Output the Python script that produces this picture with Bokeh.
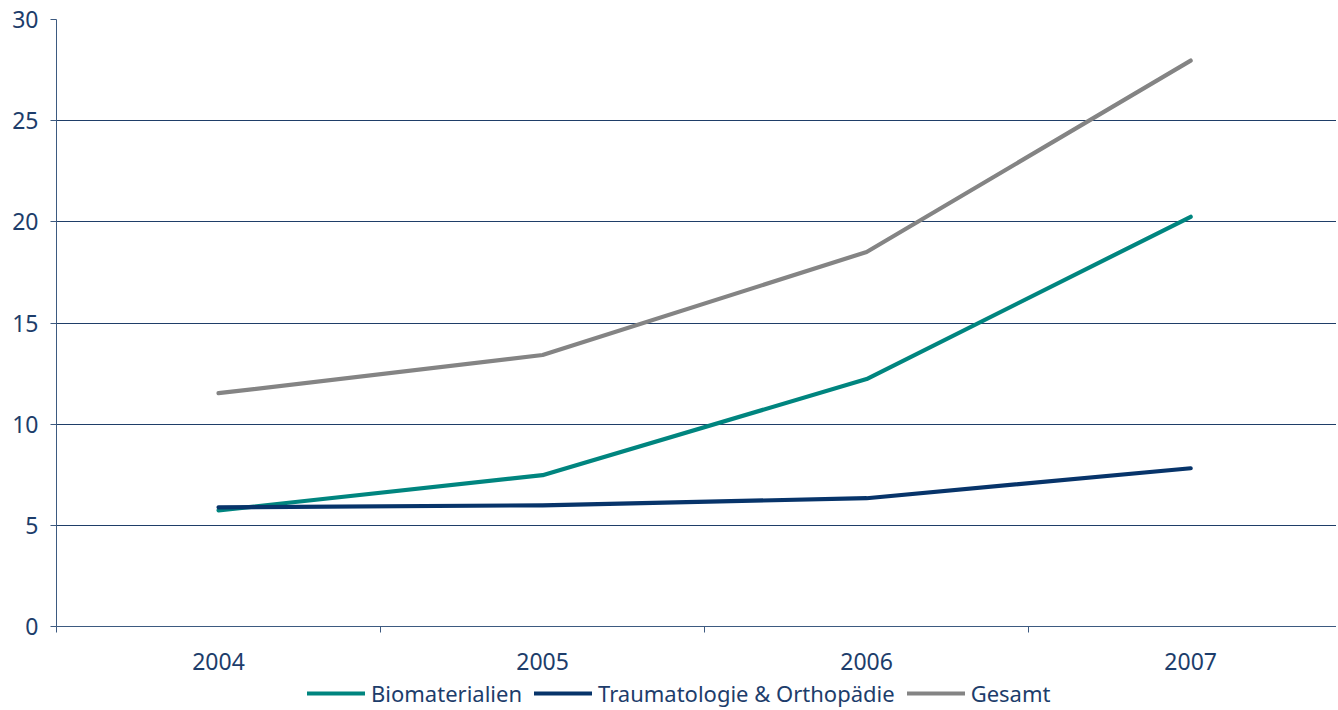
from bokeh.plotting import figure
from bokeh.layouts import column
from bokeh.models import Range1d, FixedTicker, Legend, LegendItem
from bokeh.embed import file_html
from bokeh.resources import INLINE

years = ["2004", "2005", "2006", "2007"]
biomaterialien = [5.74, 7.48, 12.23, 20.25]
traumatologie = [5.89, 5.99, 6.34, 7.82]
gesamt = [11.53, 13.42, 18.51, 27.97]
y_ticks = [0, 5, 10, 15, 20, 25, 30]

series_names = ["Biomaterialien", "Traumatologie & Orthopädie", "Gesamt"]
colors = ["#00857f", "#07346a", "#848484"]
series = [biomaterialien, traumatologie, gesamt]

TEXT = "#1d3d6b"
AXIS = "#3d5a80"
FONT = "Noto Sans"

xs = list(range(len(years)))

p = figure(width=1336, height=678, output_backend="svg", toolbar_location=None,
           x_range=Range1d(-0.5, 3.45), y_range=Range1d(0, 30),
           min_border_left=56, min_border_top=19, min_border_right=0, min_border_bottom=52)
p.outline_line_color = None
p.background_fill_color = "white"

for vals, col in zip(series, colors):
    p.line(xs, vals, line_color=col, line_width=4.2, line_cap="round", line_join="round")

# axes
p.xaxis.ticker = FixedTicker(ticks=xs, minor_ticks=[-0.5, 0.5, 1.5, 2.5, 3.5])
p.xaxis.major_label_overrides = {i: y for i, y in enumerate(years)}
p.xaxis.major_tick_out = 0
p.xaxis.major_tick_in = 0
p.xaxis.minor_tick_out = 6
p.xaxis.minor_tick_in = 0
p.xaxis.minor_tick_line_color = AXIS
p.xaxis.axis_line_color = AXIS
p.xaxis.major_label_standoff = 20
p.xaxis.major_label_text_font = FONT
p.xaxis.major_label_text_font_size = "23px"
p.xaxis.major_label_text_color = TEXT

p.yaxis.ticker = FixedTicker(ticks=y_ticks, minor_ticks=[])
p.yaxis.major_tick_out = 6
p.yaxis.major_tick_in = 0
p.yaxis.major_tick_line_color = AXIS
p.yaxis.axis_line_color = AXIS
p.yaxis.major_label_standoff = 12
p.yaxis.major_label_text_font = FONT
p.yaxis.major_label_text_font_size = "23px"
p.yaxis.major_label_text_color = TEXT

p.xgrid.grid_line_color = None
p.ygrid.grid_line_color = "#1f3e68"
p.ygrid.grid_line_width = 1

# legend strip below the chart (its lines lie outside its own ranges, only the legend shows)
pl = figure(width=1336, height=30, output_backend="svg", toolbar_location=None,
            x_range=Range1d(100, 101), y_range=Range1d(100, 101),
            min_border_left=0, min_border_top=0, min_border_right=0, min_border_bottom=0)
pl.axis.visible = False
pl.grid.grid_line_color = None
pl.outline_line_color = None
leg_renderers = []
for vals, col in zip(series, colors):
    leg_renderers.append(pl.line(xs, vals, line_color=col, line_width=4.2, line_cap="round"))

legend = Legend(items=[LegendItem(label=n, renderers=[r]) for n, r in zip(series_names, leg_renderers)],
                orientation="horizontal", location=(251, 0),
                label_text_font=FONT, label_text_font_size="22px", label_text_color=TEXT,
                label_height=20, glyph_width=58, glyph_height=20, label_standoff=6, spacing=12,
                padding=0, margin=0, border_line_color=None, background_fill_alpha=0)
pl.add_layout(legend, "center")

layout = column(p, pl, spacing=0)
open("out.html", "w").write(file_html(layout, INLINE))
